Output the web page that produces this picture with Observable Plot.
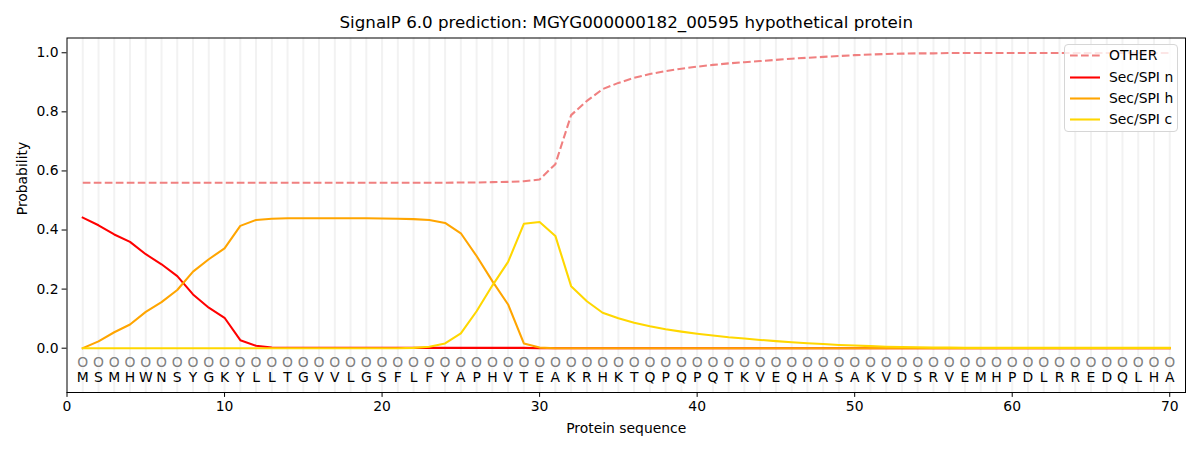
<!DOCTYPE html>
<html><head><meta charset="utf-8">
<script src="https://cdn.jsdelivr.net/npm/d3@7"></script>
<script src="https://cdn.jsdelivr.net/npm/@observablehq/plot@0.6"></script>
<style>
body{margin:0;background:#fff;font-family:"DejaVu Sans",sans-serif;}
#wrap{position:relative;width:1200px;height:450px;}
#legend{position:absolute;left:1064px;top:44px;width:114px;height:88px;box-sizing:border-box;border:1px solid #d6d6d6;border-radius:4px;background:rgba(255,255,255,0.8);font-size:13.9px;color:#000;font-family:"DejaVu Sans",sans-serif;}
#legend .row{position:absolute;left:0;height:20px;width:110px;}
#legend svg{position:absolute;left:4px;top:0;}
#legend span{position:absolute;left:44px;top:0;line-height:20px;white-space:nowrap;}
</style></head><body>
<div id="wrap"><div id="legend"></div></div>
<script>
const titleText = "SignalP 6.0 prediction: MGYG000000182_00595 hypothetical protein";
const sequence = "MSMHWNSYGKYLLTGVVLGSFLFYAPHVTEAKRHKTQPQPQTKVEQHASAKVDSRVEMHPDLRREDQLHA".split("");
const seriesNames = ["OTHER", "Sec/SPI n", "Sec/SPI h", "Sec/SPI c"];
const seriesColors = ["#f08080", "#ff0000", "#ffa500", "#ffd700"];
const xTicks = [0, 10, 20, 30, 40, 50, 60, 70];
const yTicks = [0, 0.2, 0.4, 0.6, 0.8, 1.0];

const other = [0.560,0.560,0.560,0.560,0.560,0.560,0.560,0.560,0.560,0.560,
               0.560,0.560,0.560,0.560,0.560,0.560,0.560,0.560,0.560,0.560,
               0.560,0.560,0.560,0.560,0.561,0.561,0.562,0.563,0.565,0.571,
               0.623,0.789,0.837,0.877,0.898,0.915,0.928,0.938,0.946,0.953,
               0.959,0.964,0.968,0.972,0.976,0.980,0.983,0.986,0.989,0.992,
               0.994,0.996,0.997,0.998,0.998,0.999,0.999,0.999,0.999,0.999,
               0.999,0.999,0.999,0.999,0.999,0.999,0.999,0.999,0.999,0.999];
const secN  = [0.442,0.416,0.385,0.360,0.318,0.284,0.244,0.182,0.137,0.103,
               0.027,0.008,0.002,0.001,0.001,0.001,0.001,0.001,0.001,0.001,
               0.001,0.001,0.001,0.001,0.001,0.001,0.001,0.001,0.001,0.000,
               0,0,0,0,0,0,0,0,0,0, 0,0,0,0,0,0,0,0,0,0,
               0,0,0,0,0,0,0,0,0,0, 0,0,0,0,0,0,0,0,0,0];
const secH  = [0.000,0.023,0.054,0.080,0.123,0.156,0.197,0.259,0.301,0.338,
               0.414,0.434,0.438,0.440,0.440,0.440,0.440,0.440,0.440,0.439,
               0.438,0.437,0.434,0.424,0.389,0.312,0.227,0.148,0.016,0.002,
               0,0,0,0,0,0,0,0,0,0, 0,0,0,0,0,0,0,0,0,0,
               0,0,0,0,0,0,0,0,0,0, 0,0,0,0,0,0,0,0,0,0];
const secC  = [0,0,0,0,0,0,0,0,0,0, 0,0,0,0,0,0,0,0,0,0,
               0,0.001,0.005,0.016,0.050,0.125,0.212,0.292,0.421,0.427,
               0.380,0.210,0.159,0.120,0.101,0.086,0.074,0.064,0.056,0.049,
               0.043,0.037,0.033,0.028,0.024,0.020,0.017,0.014,0.011,0.009,
               0.007,0.005,0.004,0.003,0.002,0.002,0.001,0.001,0.001,0.001,
               0.001,0.001,0.001,0.001,0.001,0.001,0.001,0.001,0.001,0.001];

const seriesValues = [other, secN, secH, secC];
const positions = sequence.map((_, i) => i + 1);
const rows = seriesValues.map(vals => vals.map((v, i) => ({pos: i + 1, p: v})));
const dash = "7.7,3.3";

const chart = Plot.plot({
  width: 1200, height: 450,
  marginLeft: 66.5, marginRight: 15, marginTop: 37.5, marginBottom: 58,
  style: {fontFamily: "DejaVu Sans, sans-serif", fontSize: "13.9px", background: "white", color: "black"},
  x: {domain: [0, 71]},
  y: {domain: [-0.15, 1.05]},
  marks: [
    Plot.ruleX(positions, {x: d => d, stroke: "#f2f2f2", strokeWidth: 2}),
    ...rows.map((r, i) => Plot.line(r, {x: "pos", y: "p", stroke: seriesColors[i], strokeWidth: 2.08,
        strokeDasharray: i === 0 ? dash : null, strokeLinejoin: "round", strokeLinecap: i === 0 ? "butt" : "square"})),
    Plot.text(positions, {x: d => d, y: -0.05, text: () => "O", fontSize: 13.9, fill: "#808080", lineAnchor: "middle"}),
    Plot.text(sequence, {x: (d, i) => i + 1, y: -0.1, text: d => d, fontSize: 13.9, fill: "black", lineAnchor: "middle"}),
    Plot.axisX({ticks: xTicks, tickSize: 4.9, tickPadding: 3.5, label: null, fontSize: 13.9}),
    Plot.axisY({ticks: yTicks, tickSize: 4.9, tickPadding: 3.5, tickFormat: d3.format(".1f"), label: null, fontSize: 13.9}),
    Plot.frame({stroke: "black", strokeWidth: 1}),
    Plot.text([titleText], {frameAnchor: "top", dy: -15, lineAnchor: "middle", fontSize: 16.7, fill: "black"}),
    Plot.text(["Probability"], {frameAnchor: "left", dx: -44.5, rotate: -90, lineAnchor: "middle", fontSize: 13.9, fill: "black"}),
    Plot.text(["Protein sequence"], {frameAnchor: "bottom", dy: 36, lineAnchor: "middle", fontSize: 13.9, fill: "black"})
  ]
});
document.getElementById("wrap").prepend(chart);

const legend = document.getElementById("legend");
const rowTops = [0, 21.7, 43.3, 64];
seriesNames.forEach((name, i) => {
  const row = document.createElement("div");
  row.className = "row";
  row.style.top = rowTops[i] + "px";
  const dashAttr = i === 0 ? ` stroke-dasharray="${dash}"` : "";
  row.innerHTML = `<svg width="32" height="20"><line x1="1" x2="31" y1="10.5" y2="10.5" stroke="${seriesColors[i]}" stroke-width="2.08"${dashAttr}/></svg><span>${name}</span>`;
  legend.appendChild(row);
});
</script>
</body></html>
